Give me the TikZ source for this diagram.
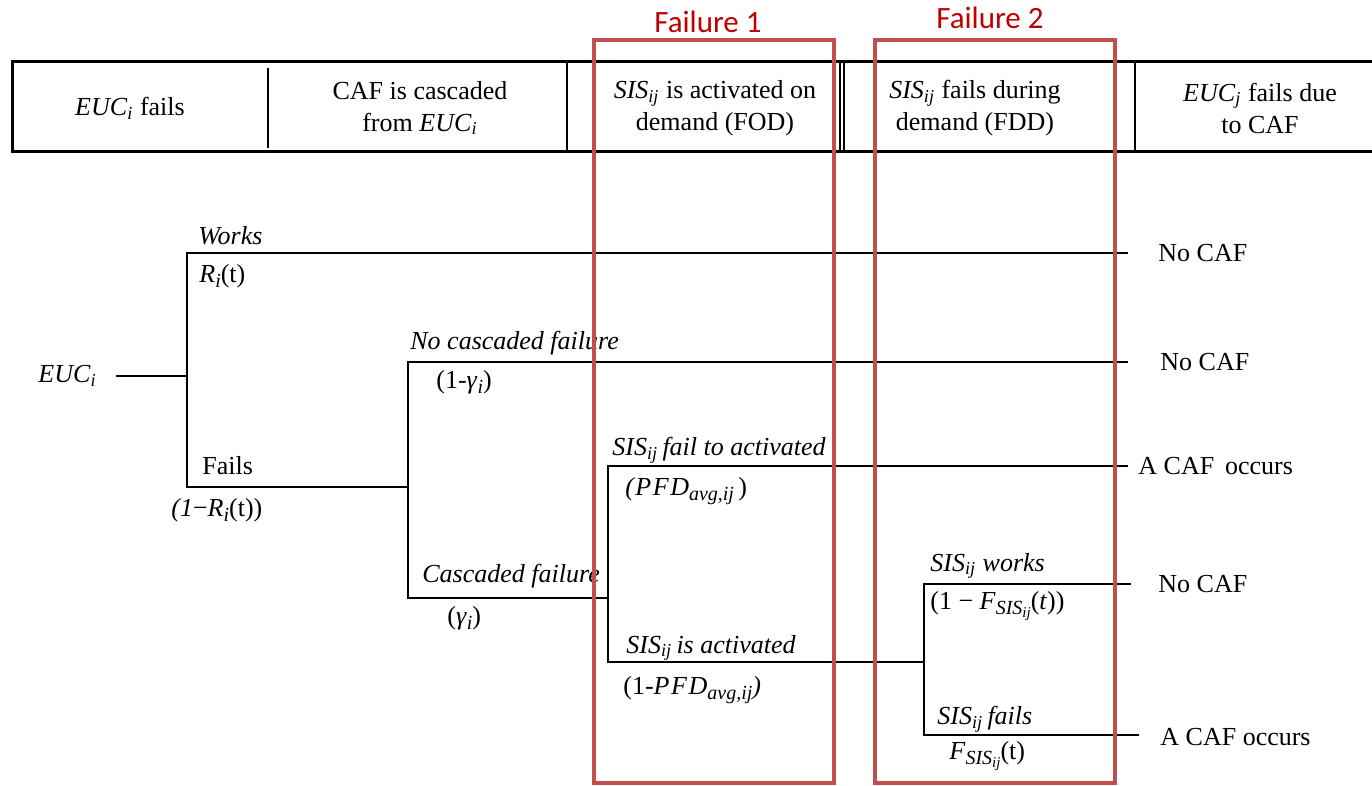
\documentclass[tikz,border=0pt]{standalone}
\usepackage{fontspec}
\setmainfont{Liberation Serif}
\newfontfamily\labelsans{Carlito}
\definecolor{boxred}{RGB}{192,80,77}
\definecolor{titlered}{RGB}{192,0,0}
\newcommand\sisij{\textit{SIS}\textsubscript{\textit{ij}}}
\newcommand\eucx[1]{\textit{EUC}\textsubscript{\textit{#1}}}
% larger, formula-like subscript for the probabilities
\newcommand\msub[1]{\raisebox{-0.45ex}{\fontsize{10}{10}\selectfont\itshape #1}}
\newcommand\mssub[1]{\raisebox{-0.35ex}{\fontsize{7.5}{8}\selectfont\itshape #1}}
\newcommand\pfd{{\itshape\addfontfeature{LetterSpace=6}PFD}}
\begin{document}
\begin{tikzpicture}[x=0.5pt,y=-0.5pt,
  txt/.style={inner sep=0pt,font=\fontsize{13}{16}\selectfont},
  lbl/.style={txt,anchor=west},
  head/.style={txt,align=center,anchor=center},
  branch/.style={line width=1.3pt,line cap=rect},
  frame/.style={draw=boxred,line width=2.2pt},
  ftitle/.style={inner sep=0pt,text=titlered,font=\labelsans\fontsize{15.5}{18}\selectfont}]
\useasboundingbox (0,0) rectangle (1372,786);

% header table
\draw[line width=1.5pt] (12,62) rectangle (1380,152);
\draw[line width=0.8pt] (268,68) -- (268,148);
\draw[line width=0.8pt] (567,62) -- (567,152);
\draw[line width=0.8pt] (840,62) -- (840,152);
\draw[line width=0.8pt] (844,62) -- (844,152);
\draw[line width=0.8pt] (1135,62) -- (1135,152);
\node[head] (h1) at (130,108) {\eucx{i} fails};
\node[head] (h2) at (420,108) {CAF is cascaded\\from \eucx{i}};
\node[head] (h3) at (715,108) {\sisij{} is activated on\\demand (FOD)};
\node[head] (h4) at (975,108) {\sisij{} fails during\\demand (FDD)};
\node[head] (h5) at (1260,108) {\eucx{j} fails due\\to CAF};

% branch points of the event tree
\coordinate (r)   at (117,376);
\coordinate (n1)  at (187,376);
\coordinate (n1t) at (187,253);
\coordinate (n1b) at (187,487);
\coordinate (n2)  at (408,487);
\coordinate (n2t) at (408,362);
\coordinate (n2b) at (408,598);
\coordinate (n3)  at (608,598);
\coordinate (n3t) at (608,466);
\coordinate (n3b) at (608,662);
\coordinate (n4)  at (924,662);
\coordinate (n4t) at (924,584);
\coordinate (n4b) at (924,735);
\coordinate (e1)  at (1127,253);
\coordinate (e2)  at (1127,362);
\coordinate (e3)  at (1127,466);
\coordinate (e4)  at (1130,584);
\coordinate (e5)  at (1138,735);

\draw[branch] (r) -- (n1);
\draw[branch] (n1t) -- (n1b);
\draw[branch] (n1t) -- (e1);
\draw[branch] (n1b) -- (n2);
\draw[branch] (n2t) -- (n2b);
\draw[branch] (n2t) -- (e2);
\draw[branch] (n2b) -- (n3);
\draw[branch] (n3t) -- (n3b);
\draw[branch] (n3t) -- (e3);
\draw[branch] (n3b) -- (n4);
\draw[branch] (n4t) -- (n4b);
\draw[branch] (n4t) -- (e4);
\draw[branch] (n4b) -- (e5);

% root
\node[lbl] (root) at (38,376) {\eucx{i}};

% branch labels
\node[lbl] (works)  at (198,236) {\textit{Works}};
\node[lbl] (pworks) at (199,276) {\textit{R}\msub{i}(t)};
\node[lbl] (fails)  at (202,466) {Fails};
\node[lbl] (pfails) at (171,510) {\textit{(1}−\textit{R}\msub{i}(t))};
\node[lbl] (nocas)  at (410,343) {\textit{No cascaded failure}};
\node[lbl] (pnocas) at (436,382) {(1-\textit{γ}\msub{i})};
\node[lbl] (cas)    at (422,576) {\textit{Cascaded failure}};
\node[lbl] (pcas)   at (447,618) {(\textit{γ}\msub{i})};
\node[lbl] (fta)    at (612,450) {\sisij\,\textit{fail to activated}};
\node[lbl] (pfta)   at (625,491) {\textit{(}\pfd\msub{avg,ij}\,)};
\node[lbl] (act)    at (626,648) {\sisij\,\textit{is activated}};
\node[lbl] (pact)   at (623,690) {(1-\pfd\msub{avg,ij}\textit{)}};
\node[lbl] (sw)     at (930,566) {\sisij{} \textit{works}};
\node[lbl] (psw)    at (930,606) {(1 − \textit{F}\msub{SIS\mssub{ij}}(\textit{t}))};
\node[lbl] (sf)     at (937,719) {\sisij\,\textit{fails}};
\node[lbl] (psf)    at (949,756) {\textit{F}\msub{SIS\mssub{ij}}(t)};

% outcomes
\node[lbl] (o1) at (1158,253) {No CAF};
\node[lbl] (o2) at (1160,362) {No CAF};
\node[lbl] (o3) at (1138,466) {A CAF \,occurs};
\node[lbl] (o4) at (1158,584) {No CAF};
\node[lbl] (o5) at (1160,737) {A CAF occurs};

% highlighted failure stages
\draw[frame] (594,40) rectangle (834,783);
\draw[frame] (875,40) rectangle (1115,783);
\node[ftitle] (f1) at (708,22) {Failure 1};
\node[ftitle] (f2) at (990,18) {Failure 2};
\end{tikzpicture}
\end{document}
